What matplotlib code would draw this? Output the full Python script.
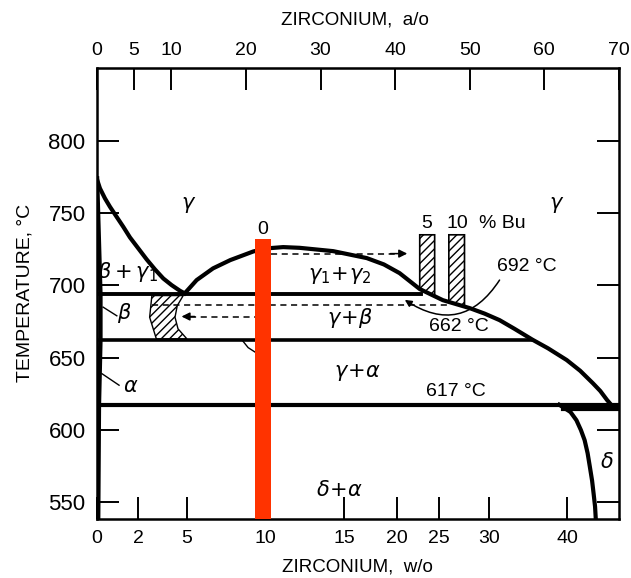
import numpy as np
import matplotlib
matplotlib.use('Agg')
import matplotlib.pyplot as plt

plt.rcParams['font.family'] = ['Liberation Sans', 'DejaVu Sans']
plt.rcParams['mathtext.fontset'] = 'dejavusans'

# top axis: atomic percent, bottom axis: weight percent labels placed on the a/o scale
ao_ticks = [0, 5, 10, 20, 30, 40, 50, 60, 70]
wo_labels = ['0', '2', '5', '10', '15', '20', '25', '30', '40']
wo_pos_ao = [0, 5.6, 12.1, 22.6, 33.2, 40.2, 45.9, 52.6, 63.1]
temp_ticks = [550, 600, 650, 700, 750, 800]

# gamma / (beta+gamma1) boundary
gam_x = [0.0, 0.44, 1.11, 1.78, 2.68, 3.57, 4.46, 5.58, 6.70, 7.81, 8.93, 10.05, 11.16, 11.8]
gam_t = [774, 767.1, 760.2, 754.4, 747.4, 740.5, 733.2, 725.6, 718.0, 711.1, 704.8, 700.2, 696.3, 694.5]

# gamma1+gamma2 miscibility dome and gamma solvus
dome_x = [11.8, 13.4, 15.6, 17.9, 21.0, 22.8, 25.0, 27.2, 31.7, 36.2, 38.5, 40.6, 43.3,
          46.4, 50.0, 52.0, 54.0, 56.0, 58.4, 60.5, 63.0, 64.8, 66.5, 67.5, 68.4, 69.0]
dome_t = [694.5, 703.7, 711.8, 717.5, 723.5, 725.6, 726.5, 726.0, 723.7, 718.9, 714.5, 708.5, 697.5,
          689.8, 684.3, 680.5, 676.0, 670.0, 662.5, 656.5, 648.4, 641.0, 632.4, 627.0, 620.8, 617.2]

# uranium-rich edge
edge_x = [0.05, 0.5, 0.5, 0.3, 0.2]
edge_t = [774, 694, 662, 617, 538]

# delta boundary
delta_x = [62.0, 63.5, 64.3, 64.9, 65.4, 65.8, 66.1, 66.4, 66.6, 66.8, 66.9]
delta_t = [617.5, 612.5, 606.8, 600.0, 593.0, 584.0, 574.6, 565.0, 556.2, 547.0, 538]

# invariant lines
t_mono = 694
t_662 = 662
t_617 = 617

# hatched region
hatch_x = [7.4, 11.6, 10.8, 10.5, 10.9, 12.1, 8.0, 7.1]
hatch_t = [693, 693, 686, 678, 670, 663, 663, 678]

# burnup bars (5 % and 10 % Bu)
bu_bars = [(43.3, 45.3), (47.2, 49.3)]
bu_top = 735

# red bar at 10 w/o
red_x = 22.25
red_top = 732

fig = plt.figure(figsize=(6.31, 5.78), dpi=100)
ax = fig.add_axes([0.1532, 0.1021, 0.8277, 0.7794])
ax.set_xlim(0, 70)
ax.set_ylim(538.5, 850)

lw = 3.0
ax.plot(gam_x, gam_t, color='black', lw=lw, solid_joinstyle='round')
ax.plot(dome_x, dome_t, color='black', lw=lw, solid_joinstyle='round')
ax.plot(edge_x, edge_t, color='black', lw=3.2)
ax.plot(delta_x, delta_t, color='black', lw=lw, solid_joinstyle='round')
ax.plot([0.5, 43.5], [t_mono, t_mono], color='black', lw=2.8)
ax.plot([0.5, 58.4], [t_662, t_662], color='black', lw=2.6)
ax.plot([0, 70], [t_617, t_617], color='black', lw=3.0)
ax.plot([62.5, 70], [614.5, 614.5], color='black', lw=3.0)

# dashed lines / arrows
ax.plot([7.4, 46.9], [686.5, 686.5], color='black', lw=1.1, ls=(0, (4, 3)))
ax.plot([23.3, 40.0], [722, 722], color='black', lw=1.1, ls=(0, (4, 3)))
ax.annotate('', xy=(42.0, 722), xytext=(39.0, 722),
            arrowprops=dict(arrowstyle='-|>', color='black', lw=1.1, mutation_scale=12))
ax.plot([12.5, 21.2], [678.5, 678.5], color='black', lw=1.1, ls=(0, (4, 3)))
ax.annotate('', xy=(11.0, 678.5), xytext=(13.5, 678.5),
            arrowprops=dict(arrowstyle='-|>', color='black', lw=1.1, mutation_scale=12))

# hatched shapes
ax.fill(hatch_x, hatch_t, facecolor='none', edgecolor='black', hatch='////', lw=1.0)
for x0, x1 in bu_bars:
    b0 = np.interp(x0, dome_x, dome_t)
    b1 = np.interp(x1, dome_x, dome_t)
    ax.fill([x0, x1, x1, x0], [bu_top, bu_top, b1, b0], facecolor='none',
            edgecolor='black', hatch='////', lw=1.2)

# 692 arc pointer
ax.annotate('', xy=(41.3, 690), xytext=(54.0, 703.7),
            arrowprops=dict(arrowstyle='-|>', color='black', lw=1.1, mutation_scale=10,
                            connectionstyle='arc3,rad=-0.5', shrinkA=0, shrinkB=0))
# small mark below 662 line
ax.plot([19.6, 20.3, 21.2], [661.5, 657, 654], color='black', lw=1.0)
# leader lines
ax.plot([0.86, 2.7], [685, 679], color='black', lw=1.0)
ax.plot([0.7, 3.0], [639, 631], color='black', lw=1.0)

ax.bar(red_x, red_top - 530, bottom=530, width=2.1, color='#ff3300', zorder=6)

# labels
fs = 15
ax.text(12.3, 755.4, r'$\gamma$', fontsize=fs, ha='center', va='center')
ax.text(61.7, 755.4, r'$\gamma$', fontsize=fs, ha='center', va='center')
ax.text(4.1, 709, r'$\beta+\gamma_1$', fontsize=fs, ha='center', va='center')
ax.text(3.7, 680.6, r'$\beta$', fontsize=fs, ha='center', va='center')
ax.text(4.5, 629.8, r'$\alpha$', fontsize=fs, ha='center', va='center')
ax.text(32.6, 707, r'$\gamma_1\!+\!\gamma_2$', fontsize=fs, ha='center', va='center')
ax.text(34.0, 677.4, r'$\gamma\!+\!\beta$', fontsize=fs, ha='center', va='center')
ax.text(35.0, 640, r'$\gamma\!+\!\alpha$', fontsize=fs, ha='center', va='center')
ax.text(32.6, 558.4, r'$\delta\!+\!\alpha$', fontsize=fs, ha='center', va='center')
ax.text(68.4, 578, r'$\delta$', fontsize=fs, ha='center', va='center')
ax.text(57.6, 712.9, '692 °C', fontsize=14, ha='center', va='center')
ax.text(48.5, 671.4, '662 °C', fontsize=14, ha='center', va='center')
ax.text(48.2, 626.4, '617 °C', fontsize=14, ha='center', va='center')
ax.text(44.2, 742.9, '5', fontsize=14, ha='center', va='center')
ax.text(48.3, 742.9, '10', fontsize=14, ha='center', va='center')
ax.text(54.4, 742.9, '% Bu', fontsize=14, ha='center', va='center')
ax.text(22.2, 738.5, '0', fontsize=14, ha='center', va='center')

# axes and ticks
for s in ax.spines.values():
    s.set_linewidth(1.8)
ax.set_xticks(wo_pos_ao)
ax.set_xticklabels(wo_labels)
ax.set_yticks(temp_ticks)
ax.tick_params(axis='x', direction='in', length=16, width=1.4, labelsize=14, pad=8)
ax.tick_params(axis='y', direction='in', length=16, width=1.4, labelsize=16, pad=8,
               right=True)

top = ax.secondary_xaxis('top')
top.set_xticks(ao_ticks)
top.tick_params(direction='in', length=16, width=1.4, labelsize=14, pad=7)

fig.text(355 / 631, 1 - 20 / 578, 'ZIRCONIUM,  a/o', fontsize=13.5, ha='center', va='center')
fig.text(357 / 631, 1 - 567 / 578, 'ZIRCONIUM,  w/o', fontsize=13.5, ha='center', va='center')
fig.text(25 / 631, 1 - 293 / 578, 'TEMPERATURE, °C', fontsize=14, ha='center', va='center',
         rotation=90)

fig.savefig('out.png', dpi=100)
